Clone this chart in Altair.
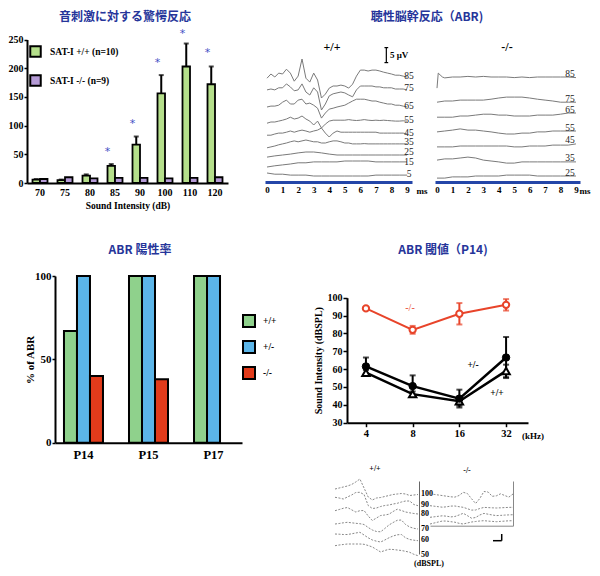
import altair as alt
import pandas as pd

W, H = 584, 560


def P(v):
    """reference-page pixel -> chart pixel (page margin is 8px)"""
    return v - 8


SERIF = "Liberation Serif"
CJK = "Noto Sans CJK JP"
TITLE_BLUE = "#26359a"
STAR_BLUE = "#3f4fc4"
ABR_BLUE = "#2446a8"
TRACE_GREY = "#7a7a7a"

# ---------------- Panel A : startle response ----------------
DB_LEVELS = ["70", "75", "80", "85", "90", "100", "110", "120"]
WT_LABEL = "SAT-I +/+ (n=10)"
KO_LABEL = "SAT-I -/- (n=9)"
STARTLE_WT = [6, 5, 13, 30, 67, 156, 203, 172]
STARTLE_WT_ERR = [1, 1, 2, 3, 14, 32, 40, 31]
STARTLE_KO = [7, 10, 8, 9, 9, 8, 9, 10]
STAR_LEVELS = ["85", "90", "100", "110", "120"]
STAR_Y = [60, 108, 215, 265, 231]
GREEN_A = "#b5df8b"
PURPLE_A = "#b59bd6"

# ---------------- Panels B/C : ABR traces (uV) ----------------
T_FINE = [0, 0.25, 0.5, 0.75, 1.0, 1.25, 1.5, 1.75, 2.0, 2.25, 2.5, 2.75, 3.0,
          3.25, 3.5, 3.75, 4.0, 4.25, 4.5, 4.75, 5.0, 5.25, 5.5, 5.75, 6.0,
          6.25, 6.5, 6.75, 7.0, 7.25, 7.5, 7.75, 8.0, 8.25, 8.5, 8.75, 9.0]
T_COARSE = [0, 0.5, 1.0, 1.5, 2.0, 2.5, 3.0, 3.5, 4.0, 4.5, 5.0, 5.5, 6.0,
            6.5, 7.0, 7.5, 8.0, 8.5, 9.0]

WT_LEVELS = ["85", "75", "65", "55", "45", "35", "25", "15", "5"]
WT_OFFSET = [35.3, 30.7, 25.3, 20.3, 16.3, 12.7, 9.0, 6.7, 2.3]
WT_WAVE = {
    "85": [-0.7, 0.7, -0.3, 1.0, 0.7, 2.3, 1.0, -1.7, 0.0, 5.7, -0.7, -2.0, 1.0,
           -1.3, -7.3, -6.0, -4.0, -3.3, -3.3, -3.0, -3.3, -4.0, -2.7, 0.0, 2.0,
           2.0, 1.7, 2.0, 2.0, 1.7, 1.3, 1.0, 0.7, 0.3, 0.3, 0.0, -0.3],
    "75": [0, 0.3, 0, 0.7, 0.7, 2.0, 1.0, -0.3, 0, 2.0, -0.7, -1.7, 0.7,
           -0.7, -6.7, -4.7, -2.0, -1.3, -1.0, -0.7, -1.0, -1.7, -2.3, 0, 1.3,
           1.3, 1.3, 1.3, 1.0, 1.0, 0.7, 0.7, 0.7, 0.3, 0.3, 0.3, 0],
    "65": [-0.3, 0, 0, 0.3, 1.3, 2.0, 0.7, 0.7, 2.0, 2.3, 0.7, 1.0, 0.3,
           -0.7, -4.0, -2.3, -1.0, -0.7, -0.3, 0, 0.3, 1.0, 1.7, 2.3, 2.3,
           2.3, 2.0, 1.7, 1.7, 1.3, 1.0, 0.7, 0.7, 0.3, 0.3, 0, -0.3],
    "55": [-0.7, -0.3, -0.3, 0, 0.3, 0.7, 1.3, 0.7, 1.0, 1.7, 0.7, 0, -1.3,
           0, -2.3, -1.0, 0, 0.3, 0.3, 0.3, 0.3, 0.5, 0.3, 0.2, 0.3,
           0.5, 0.3, 0.2, 0.3, 0.2, 0.3, 0.2, 0.1, 0, 0, 0.1, 0],
    "45": [-0.7, -0.7, -0.3, 0, 0, 0.3, 0.7, 0.3, 0.7, 1.0, 0.7, 0.3, 0.7,
           1.0, 1.7, 0, -1.3, 0, 0.7, 0.3, 0.3, 0.3, 0.3, 0.3, 0.3,
           0.3, 0.3, 0.3, 0.3, 0, 0, 0, 0, 0, 0, 0, -0.3],
    "35": [-1.3, -1.0, -0.7, -0.3, 0, 0.3, 0.7, 1.0, 0.7, 1.0, 1.3, 1.0, 0.7,
           0.7, 0.3, 0.3, 0.7, 1.0, 1.0, 0.7, 0.3, 0.3, 0, 0, 0,
           0.1, 0, 0, 0, 0, 0, 0, 0, 0, 0, 0, 0],
    "25": [-0.7, -0.3, 0, 0.3, 0.7, 1.0, 1.0, 0.7, 0.3, 0, 0, 0, 0, 0, 0, 0, 0, 0, 0],
    "15": [-1.7, -1.3, -1.0, -0.7, -0.3, -0.3, 0, 0, 0, 0, 0.3, 0.3, 0.3, 0.3, 0, 0, 0, 0, 0],
    "5": [0.7, 0.3, 0.3, 0, 0, 0, -0.3, -0.3, -0.3, -0.3, -0.3, -0.3, -0.3, -0.3, 0, 0, 0, 0, 0],
}

KO_LEVELS = ["85", "75", "65", "55", "45", "35", "25"]
KO_OFFSET = [35.0, 27.3, 22.3, 17.0, 12.0, 7.0, 2.0]
T_KO85 = [0, 0.08, 0.2, 0.35, 0.5, 1.0, 1.5, 2.0, 2.5, 3.0, 3.5, 4.0, 4.5,
          5.0, 5.5, 6.0, 6.5, 7.0, 7.5, 8.0, 8.5, 9.0]
KO_WAVE = {
    "85": [-3.7, 1.3, 0.7, 0, -0.3, 0, 0, 0.2, 0, 0.2, 0, 0, 0, -0.2, 0, -0.2,
           0, 0, 0, 0, 0, -0.2],
    "75": [-0.7, -0.3, -0.3, 0, 0, 0, 0, 0.3, 0.7, 1.0, 1.0, 1.0, 0.7, 0.3, 0, -0.3, -0.7, -0.7, -0.7],
    "65": [-0.7, -0.7, -0.7, -0.3, -0.3, 0, 0.3, 0.3, 0, 0, -0.3, -0.3, -0.3, 0, 0, 0, 0.3, 0.7, 0.7],
    "55": [-0.3, 0, 0.3, 0.7, 0.3, 0.3, 0, -0.3, -0.7, -1.0, -1.0, -0.7, -0.7, -0.3, -0.3, 0, 0, 0, 0],
    "45": [-0.3, -0.3, -0.3, 0, 0, 0, 0, 0, 0, 0, -0.3, -0.3, 0, 0, 0, 0.3, 0.3, 0.3, 0.7],
    "35": [0.3, 0.7, 0.7, 1.0, 1.3, 1.0, 0.3, 0, -0.3, -0.7, -0.7, -0.3, -0.3, -0.3, -0.3, -0.3, -0.3, -0.3, -0.3],
    "25": [-0.7, -0.7, -0.3, -0.3, -0.3, 0, 0, 0, 0, 0.3, 0.3, 0.3, 0.3, 0, 0, 0, 0, 0, 0],
}
SCALE_BAR_UV = 5

# ---------------- Panel D : ABR positive rate ----------------
AGES = ["P14", "P15", "P17"]
GENOS = ["+/+", "+/-", "-/-"]
POS_WT = [67, 100, 100]
POS_HET = [100, 100, 100]
POS_KO = [40, 38, None]  # no -/- bar at P17
GREEN_D = "#8fd18c"
BLUE_D = "#5bb5e8"
RED_D = "#e23b1b"

# ---------------- Panel E : ABR threshold ----------------
FREQS = [4, 8, 16, 32]
THR_WT = [58, 46, 42, 59]
THR_WT_ERR = [1.5, 1.5, 2.5, 3.5]
THR_HET = [61.5, 50.5, 43.5, 66.5]
THR_HET_ERR = [5, 6, 5, 11.5]
THR_KO = [94, 82, 91, 96]
THR_KO_ERR = [0.8, 2.2, 6, 3.2]
RED_E = "#e8442a"

# ---------------- Panel F : small ABR traces ----------------
F_T = [0, 0.5, 1.0, 1.5, 2.0, 2.5, 3.0, 3.5, 4.0, 4.5, 5.0, 5.5, 6.0, 6.5,
       7.0, 7.5, 8.0, 8.5, 9.0, 9.5, 10.0]
F_LEFT_LEVELS = ["100", "90", "80", "70", "60", "50"]
F_LEFT = {
    "100": [70, 71, 72, 73, 74.5, 77, 80, 71, 62, 59, 61, 61.5, 62.5, 63.5, 64.5, 65, 65.5, 65, 63.5, 64, 64.5],
    "90": [61.7, 61, 60, 62, 64, 66.5, 66.7, 64.5, 53.5, 50.5, 51, 52.5, 53.5, 54, 55, 55.7, 57, 58, 58, 54.5, 53.3],
    "80": [48.3, 49.5, 50.7, 51.5, 49.2, 47, 48.3, 48.5, 43, 38.5, 41, 43.5, 44, 44.8, 47.5, 49.8, 48.5, 47, 46.2, 45.5, 45],
    "70": [35, 35.5, 36.2, 36.7, 36.2, 35.7, 35.3, 34.5, 31.5, 29, 27.5, 27.2, 30.5, 34, 36.5, 38.7, 39, 34.5, 32, 30.7, 30],
    "60": [25, 24.8, 24.5, 24.5, 25.2, 26, 26.7, 24, 21.2, 19, 17.8, 17, 19, 21.2, 23, 24.2, 24.5, 21.2, 19.5, 18.8, 18.3],
    "50": [13.3, 14, 14.5, 15, 15, 15, 15, 14.7, 13.5, 12, 9.5, 7, 8.5, 9.7, 9.5, 9, 8.5, 7.7, 6.7, 4.7, 3.3],
}
F_RIGHT_LEVELS = ["100", "90", "80", "70"]
F_RIGHT = {
    "100": [65, 64.6, 64, 63.4, 62.8, 62.2, 61.9, 63.5, 66.7, 65.5, 60.3, 55.5, 60.5, 67.5, 67, 62.7, 63.2, 65.2, 63.5, 61.9, 65],
    "90": [53.3, 52.8, 52.3, 51.8, 52.2, 52.9, 53, 52.3, 51.7, 50.3, 48.9, 49, 50.5, 51.6, 51.4, 51.2, 51, 51.2, 51.4, 51.6, 51.7],
    "80": [41.7, 42.2, 42.7, 43.2, 42.8, 42.1, 42.5, 44, 45.7, 43.4, 40.8, 41.5, 44, 45.6, 44.8, 44, 43.4, 43.6, 43.9, 44.1, 44.3],
    "70": [35, 36, 37, 38, 37.9, 37.3, 36.8, 35.7, 35, 36, 37, 37.5, 38, 38.3, 37.9, 37.6, 37.3, 37.6, 37.9, 38.2, 38.3],
}


# =====================================================================
def txt(text, x, y, size=10, weight="bold", font=SERIF, color="black",
        align="center", baseline="middle", angle=0):
    return alt.Chart(pd.DataFrame({"s": [text]})).mark_text(
        font=font, fontSize=size, fontWeight=weight, color=color,
        align=align, baseline=baseline, angle=angle
    ).encode(x=alt.value(x), y=alt.value(y), text="s:N")


def ax(**kw):
    base = dict(grid=False, labelFont=SERIF, labelFontWeight="bold",
                labelColor="black", domainColor="black", tickColor="black",
                titleFont=SERIF, titleFontWeight="bold", titleColor="black")
    base.update(kw)
    return alt.Axis(**base)


units = []

# ---------------- Panel A ----------------
df_a = pd.DataFrame({
    "db": DB_LEVELS * 2,
    "geno": [WT_LABEL] * len(DB_LEVELS) + [KO_LABEL] * len(DB_LEVELS),
    "val": STARTLE_WT + STARTLE_KO,
})
df_a_err = pd.DataFrame({
    "db": DB_LEVELS, "geno": WT_LABEL, "val": STARTLE_WT,
    "hi": [v + e for v, e in zip(STARTLE_WT, STARTLE_WT_ERR)],
})
df_star = pd.DataFrame({"db": STAR_LEVELS, "geno": WT_LABEL, "val": STAR_Y})

scA_x = alt.Scale(domain=DB_LEVELS, range=[P(27), P(228)], paddingInner=0.4, paddingOuter=0.22)
scA_off = alt.Scale(domain=[WT_LABEL, KO_LABEL], paddingInner=0, paddingOuter=0)
scA_y = alt.Scale(domain=[0, 250], range=[P(183), P(39.5)], nice=False)

axA_x = ax(orient="bottom", offset=P(183) - H, labelAngle=0, labelFontSize=10,
           labelPadding=4, ticks=False, domainWidth=2,
           title="Sound Intensity (dB)", titleFontSize=9.5, titlePadding=3)
axA_y = ax(orient="left", offset=-P(27), values=[0, 50, 100, 150, 200, 250],
           labelFontSize=10, labelPadding=1, tickSize=3, tickWidth=1.5,
           domainWidth=2, title=None)

legA = alt.Legend(orient="none", legendX=P(29), legendY=P(45), title=None,
                  symbolType="square", symbolSize=110, symbolStrokeColor="black",
                  symbolStrokeWidth=2, labelFont=SERIF, labelFontSize=9.5,
                  labelFontWeight="bold", labelColor="black", labelOffset=8,
                  rowPadding=10)


def xa(axis=None):
    return alt.X("db:N", scale=scA_x, axis=axis)


def oa():
    return alt.XOffset("geno:N", scale=scA_off)


units.append(alt.Chart(df_a).mark_bar(stroke="black", strokeWidth=1.8).encode(
    x=xa(axA_x), xOffset=oa(),
    y=alt.Y("val:Q", scale=scA_y, axis=axA_y),
    color=alt.Color("geno:N", scale=alt.Scale(domain=[WT_LABEL, KO_LABEL],
                                              range=[GREEN_A, PURPLE_A]), legend=legA),
))
units.append(alt.Chart(df_a_err).mark_rule(color="black", strokeWidth=2).encode(
    x=xa(), xOffset=oa(), y=alt.Y("val:Q", scale=scA_y, axis=None), y2="hi:Q"))
units.append(alt.Chart(df_a_err).mark_tick(color="black", thickness=2, size=5,
                                           orient="horizontal").encode(
    x=xa(), xOffset=oa(), y=alt.Y("hi:Q", scale=scA_y, axis=None)))
units.append(alt.Chart(df_star).mark_text(text="*", fontSize=11, color=STAR_BLUE,
                                          font="DejaVu Sans", baseline="middle", dy=3).encode(
    x=xa(), xOffset=oa(), y=alt.Y("val:Q", scale=scA_y, axis=None)))


# ---------------- Panels B / C ----------------
def trace_frame(levels, offsets, waves, special=None):
    rows = []
    for lvl, off in zip(levels, offsets):
        wave = waves[lvl]
        if special and lvl in special:
            times = special[lvl]
        else:
            times = T_FINE if len(wave) == len(T_FINE) else T_COARSE
        assert len(times) == len(wave), lvl
        for t, d in zip(times, wave):
            rows.append({"t": t, "v": off + d, "level": lvl})
    return pd.DataFrame(rows)


df_b = trace_frame(WT_LEVELS, WT_OFFSET, WT_WAVE)
df_c = trace_frame(KO_LEVELS, KO_OFFSET, KO_WAVE, special={"85": T_KO85})

scB_x = alt.Scale(domain=[-0.13, 9.32], range=[P(265), P(412)], nice=False, zero=False)
scC_x = alt.Scale(domain=[-0.13, 9.26], range=[P(435), P(580)], nice=False, zero=False)
scBC_y = alt.Scale(domain=[0, 48], range=[P(182), P(38)], nice=False, zero=False)


def abr_axis():
    return ax(orient="bottom", offset=P(182) - H, values=list(range(10)), format="d",
              ticks=False, title=None, labelFontSize=9, labelPadding=3,
              domainColor=ABR_BLUE, domainWidth=3)


def level_labels(df, scx, flt, dx, dy):
    return alt.Chart(df).transform_filter(flt).mark_text(
        font=SERIF, fontSize=9.5, color="#222", align="center", baseline="middle",
        dx=dx, dy=dy).encode(
        x=alt.X("t:Q", scale=scx, axis=None),
        y=alt.Y("v:Q", scale=scBC_y, axis=None),
        text="level:N")


def trace_lines(df, scx):
    return alt.Chart(df).mark_line(color=TRACE_GREY, strokeWidth=1).encode(
        x=alt.X("t:Q", scale=scx, axis=abr_axis()),
        y=alt.Y("v:Q", scale=scBC_y, axis=None),
        detail="level:N")


end_b = "datum.t == 9"
units += [
    trace_lines(df_b, scB_x),
    level_labels(df_b, scB_x, end_b + " && datum.level != '25' && datum.level != '15'", 2, -1.5),
    level_labels(df_b, scB_x, end_b + " && datum.level == '25'", 2, -3.5),
    level_labels(df_b, scB_x, end_b + " && datum.level == '15'", 2, 0.5),
    trace_lines(df_c, scC_x),
    level_labels(df_c, scC_x, "datum.t == 9", -6, -3.5),
]

sb_t, sb_v = 7.67, 39.8
df_sb = pd.DataFrame({"t": [sb_t], "v": [sb_v], "v2": [sb_v + SCALE_BAR_UV]})
df_sbcap = pd.DataFrame({"t": [sb_t - 0.12] * 2, "t2": [sb_t + 0.12] * 2,
                         "v": [sb_v, sb_v + SCALE_BAR_UV]})
units.append(alt.Chart(df_sb).mark_rule(color="black", strokeWidth=1.2).encode(
    x=alt.X("t:Q", scale=scB_x, axis=None),
    y=alt.Y("v:Q", scale=scBC_y, axis=None), y2="v2:Q"))
units.append(alt.Chart(df_sbcap).mark_rule(color="black", strokeWidth=1.2).encode(
    x=alt.X("t:Q", scale=scB_x, axis=None), x2="t2:Q",
    y=alt.Y("v:Q", scale=scBC_y, axis=None)))
units += [
    txt("5 μV", P(390), P(55), size=9, align="left"),
    txt("+/+", P(332), P(47), size=12),
    txt("ms", P(422), P(191), size=9),
    txt("-/-", P(507), P(47), size=12),
    txt("ms", P(585), P(191), size=9),
]

# ---------------- Panel D ----------------
d_rows = []
for age, a, b, c in zip(AGES, POS_WT, POS_HET, POS_KO):
    for g, v in zip(GENOS, [a, b, c]):
        if v is not None:
            d_rows.append({"age": age, "geno": g, "val": v})
df_d = pd.DataFrame(d_rows)

scD_x = alt.Scale(domain=AGES, range=[P(55), P(242)], paddingInner=0.4, paddingOuter=0.138)
scD_off = alt.Scale(domain=GENOS, paddingInner=0, paddingOuter=0)
scD_y = alt.Scale(domain=[0, 100], range=[P(442.7), P(276)], nice=False)
axD_x = ax(orient="bottom", offset=P(442.7) - H, labelAngle=0, ticks=False,
           labelFontSize=12.5, labelPadding=6, domainWidth=2, title=None)
axD_y = ax(orient="left", offset=-P(55), values=[0, 50, 100], labelFontSize=11,
           labelPadding=1, tickSize=3, tickWidth=1.5, domainWidth=2,
           title="% of ABR", titleFontSize=11, titleX=-25,
           titleBaseline="middle", titleAlign="center")
legD = alt.Legend(orient="none", legendX=P(242), legendY=P(314), title=None,
                  symbolType="square", symbolSize=144, symbolStrokeColor="black",
                  symbolStrokeWidth=2, labelFont=SERIF, labelFontSize=9.5,
                  labelFontWeight="bold", labelColor="black", labelOffset=7,
                  rowPadding=6)
units.append(alt.Chart(df_d).mark_bar(stroke="black", strokeWidth=2).encode(
    x=alt.X("age:N", scale=scD_x, axis=axD_x),
    xOffset=alt.XOffset("geno:N", scale=scD_off),
    y=alt.Y("val:Q", scale=scD_y, axis=axD_y),
    color=alt.Color("geno:N", scale=alt.Scale(domain=GENOS, range=[GREEN_D, BLUE_D, RED_D]),
                    legend=legD),
))

# ---------------- Panel E ----------------
e_rows = []
for g, vals, errs in [("wt", THR_WT, THR_WT_ERR), ("het", THR_HET, THR_HET_ERR),
                      ("ko", THR_KO, THR_KO_ERR)]:
    for f, v, e in zip(FREQS, vals, errs):
        e_rows.append({"freq": f, "geno": g, "val": v, "lo": v - e, "hi": v + e})
df_e = pd.DataFrame(e_rows)

scE_x = alt.Scale(type="log", base=2, domain=[3.02, 44.3], range=[P(347), P(528)], nice=False)
scE_y = alt.Scale(domain=[30, 100], range=[P(422.7), P(297.7)], nice=False, zero=False)
axE_x = ax(orient="bottom", offset=P(422.7) - H, values=FREQS, format="d",
           labelFontSize=10.5, labelPadding=2, tickSize=4, tickWidth=1.5,
           domainWidth=2, title=None)
axE_y = ax(orient="left", offset=-P(347), values=[30, 40, 50, 60, 70, 80, 90, 100],
           labelFontSize=10, labelPadding=1, tickSize=4, tickWidth=1.5, domainWidth=2,
           title="Sound Intensity (dBSPL)", titleFontSize=10, titleX=-29,
           titleBaseline="middle", titleAlign="center")

ebase = alt.Chart(df_e)


def ex(axis=None):
    return alt.X("freq:Q", scale=scE_x, axis=axis)


def ey(field="val", axis=None):
    return alt.Y(f"{field}:Q", scale=scE_y, axis=axis)


first = True
for g, col, w in [("wt", "black", 2.5), ("het", "black", 2.5), ("ko", RED_E, 2)]:
    sub = ebase.transform_filter(alt.datum.geno == g)
    units.append(sub.mark_line(color=col, strokeWidth=w).encode(
        x=ex(axE_x if first else None), y=ey(axis=axE_y if first else None)))
    first = False
    units.append(sub.mark_rule(color=col, strokeWidth=2).encode(
        x=ex(), y=ey("lo"), y2="hi:Q"))
    for fld in ["lo", "hi"]:
        units.append(sub.mark_tick(color=col, thickness=2, size=6,
                                   orient="horizontal").encode(x=ex(), y=ey(fld)))
units.append(ebase.transform_filter(alt.datum.geno == "wt").mark_point(
    shape="triangle-up", filled=True, fill="white", stroke="black", strokeWidth=2,
    size=55, opacity=1).encode(x=ex(), y=ey()))
units.append(ebase.transform_filter(alt.datum.geno == "het").mark_point(
    shape="circle", filled=True, fill="black", stroke="black", strokeWidth=1,
    size=55, opacity=1).encode(x=ex(), y=ey()))
units.append(ebase.transform_filter(alt.datum.geno == "ko").mark_point(
    shape="circle", filled=True, fill="white", stroke=RED_E, strokeWidth=2,
    size=40, opacity=1).encode(x=ex(), y=ey()))
units += [
    txt("-/-", P(410), P(308), size=10, weight="normal", color=RED_E),
    txt("+/-", P(473), P(365), size=9.5),
    txt("+/+", P(497), P(393), size=9.5),
    txt("(kHz)", P(533), P(436), size=9),
]


# ---------------- Panel F ----------------
def f_frame(levels, waves):
    rows = []
    for lvl in levels:
        assert len(waves[lvl]) == len(F_T), lvl
        for t, v in zip(F_T, waves[lvl]):
            rows.append({"t": t, "v": v, "level": lvl})
    return pd.DataFrame(rows)


df_f1 = f_frame(F_LEFT_LEVELS, F_LEFT)
df_f2 = f_frame(F_RIGHT_LEVELS, F_RIGHT)
FS = -6  # small upward shift of the bottom panel so its caption fits

scF1_x = alt.Scale(domain=[0, 10], range=[P(335), P(418)], nice=False, zero=False)
scF1_y = alt.Scale(domain=[5, 78], range=[P(560 + FS), P(487 + FS)], nice=False, zero=False)
scF2_x = alt.Scale(domain=[0, 10], range=[P(430), P(513)], nice=False, zero=False)
scF2_y = alt.Scale(domain=[33.3, 78], range=[P(531.7 + FS), P(487 + FS)], nice=False, zero=False)

axF1_y = alt.Axis(orient="left", offset=-P(419), labels=False, ticks=False, grid=False,
                  title=None, domainColor="#666", domainWidth=1)
axF2_y = alt.Axis(orient="right", offset=P(513) - W, labels=False, ticks=False, grid=False,
                  title=None, domainColor="#888", domainWidth=1)
axF2_x = alt.Axis(orient="bottom", offset=P(531.7 + FS) - H, labels=False, ticks=False,
                  grid=False, title=None, domainColor="#888", domainWidth=1)

units.append(alt.Chart(df_f1).mark_line(color="#888", strokeWidth=1, strokeDash=[2, 1.5]).encode(
    x=alt.X("t:Q", scale=scF1_x, axis=None),
    y=alt.Y("v:Q", scale=scF1_y, axis=axF1_y), detail="level:N"))
units.append(alt.Chart(df_f1).transform_filter("datum.t == 10").mark_text(
    font=SERIF, fontSize=8, fontWeight="bold", color="black", align="left",
    baseline="middle", dx=3, dy=-0.5).encode(
    x=alt.X("t:Q", scale=scF1_x, axis=None),
    y=alt.Y("v:Q", scale=scF1_y, axis=None), text="level:N"))
units += [txt("+/+", P(375), P(475 + FS), size=8),
          txt("(dBSPL)", P(429), P(563.5), size=8)]

units.append(alt.Chart(df_f2).mark_line(color="#888", strokeWidth=1, strokeDash=[2, 1.5]).encode(
    x=alt.X("t:Q", scale=scF2_x, axis=axF2_x),
    y=alt.Y("v:Q", scale=scF2_y, axis=axF2_y), detail="level:N"))
df_fsb = pd.DataFrame({"t": [7.59], "t2": [8.64], "v": [18.3], "v2": [25.0]})
units.append(alt.Chart(df_fsb).mark_rule(color="black", strokeWidth=1.5).encode(
    x=alt.X("t:Q", scale=scF2_x, axis=None), x2="t2:Q",
    y=alt.Y("v:Q", scale=scF2_y, axis=None)))
units.append(alt.Chart(df_fsb).mark_rule(color="black", strokeWidth=1.5).encode(
    x=alt.X("t2:Q", scale=scF2_x, axis=None),
    y=alt.Y("v:Q", scale=scF2_y, axis=None), y2="v2:Q"))
units.append(txt("-/-", P(467), P(477 + FS), size=8))

# ---------------- Titles ----------------
units += [
    txt("音刺激に対する驚愕反応", P(125), 9, size=12, font=CJK, color=TITLE_BLUE),
    txt("聴性脳幹反応（ABR)", P(427), 9, size=12, font=CJK, color=TITLE_BLUE),
    txt("ABR 陽性率", P(140), P(250), size=12, font=CJK, color=TITLE_BLUE),
    txt("ABR 閾値（P14)", P(443), P(250), size=12, font=CJK, color=TITLE_BLUE),
]

chart = alt.layer(*units).resolve_scale(
    x="independent", y="independent", color="independent", xOffset="independent"
).properties(
    width=W, height=H, padding=0, autosize=alt.AutoSizeParams(type="none")
).configure_view(stroke=None)

chart.save("out.html", embed_options={"renderer": "svg", "actions": False})
